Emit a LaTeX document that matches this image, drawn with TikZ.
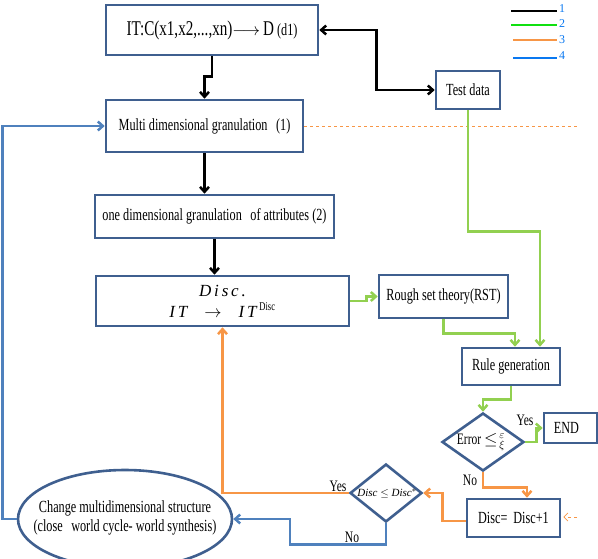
\documentclass[tikz,border=0pt]{standalone}
\usepackage{fontspec}
\setmainfont{Liberation Serif}
\newfontfamily\cond[FakeStretch=0.72]{Liberation Serif}
\usetikzlibrary{arrows.meta,shapes.geometric}
\definecolor{boxblue}{HTML}{3F5F8F}
\definecolor{loopblue}{HTML}{4F81BD}
\definecolor{lgreen}{HTML}{92D050}
\definecolor{lorange}{HTML}{F79646}
\definecolor{legblue}{HTML}{0A78F0}
\definecolor{leggreen}{HTML}{10E010}
\begin{document}
\begin{tikzpicture}[x=1pt,y=-1pt,
  box/.style={draw=boxblue, line width=2.6pt, inner sep=0pt, align=center,
    font=\cond\fontsize{17}{20}\selectfont},
  dia/.style={draw=boxblue, line width=2.6pt, diamond, inner sep=0pt},
  tip/.style={-{Straight Barb[length=5pt,width=9pt]}},
  blk/.style={black, line width=2.5pt, tip},
  grn/.style={lgreen, line width=2.5pt, tip},
  org/.style={lorange, line width=2.5pt, tip},
  blu/.style={loopblue, line width=2.5pt, tip},
  lbl/.style={font=\cond\fontsize{16}{19}\selectfont, inner sep=0pt}]
\useasboundingbox (0,0) rectangle (598,558);

% boxes
\node[box, minimum width=212, minimum height=50] (A) at (212,30)
  {{\fontsize{21}{24}\selectfont IT:C(x1,x2,...,xn)}$\longrightarrow$\,{\fontsize{21}{24}\selectfont D} (d1)};
\node[box, minimum width=197, minimum height=52] (B) at (204.5,126)
  {Multi dimensional granulation\enspace(1)};
\node[box, minimum width=239, minimum height=43] (C) at (214.5,216.5)
  {one dimensional granulation\enspace of attributes (2)};
\node[box, minimum width=253, minimum height=50, font=\fontsize{17}{21}\selectfont] (D) at (222.5,301)
  {\itshape D\,i\,s\,c\,.\\ \itshape I\,T\quad$\rightarrow$\quad I\,T\,\textsuperscript{\upshape\cond Disc}};
\node[box, minimum width=64, minimum height=38] (T) at (468,90) {Test data};
\node[box, minimum width=129, minimum height=43] (RST) at (443.5,296.5) {Rough set theory(RST)};
\node[box, minimum width=98, minimum height=37] (R) at (511,366.5) {Rule generation};
\node[box, minimum width=53, minimum height=30] (END) at (570.5,428) {END\hspace{8pt}};
\node[box, minimum width=93, minimum height=38] (Inc) at (513.5,518) {Disc=\, Disc+1};
\node[dia, minimum width=82, minimum height=58] (E) at (483,442) {};
\node[lbl] at ([xshift=-2pt]E.center) {Error $\le^{\,\varepsilon}_{\,\xi}$};
\node[dia, minimum width=72, minimum height=58] (D2) at (386,493) {};
\node[inner sep=0pt, font=\fontsize{11}{13}\selectfont] at ([xshift=1pt]D2.center) {\itshape Disc $\le$ Disc$^{*}$};
\node[draw=boxblue, line width=2.6pt, ellipse, inner sep=0pt, minimum width=214, minimum height=98] (El) at (125,519) {};
\node[lbl, align=center, font=\cond\fontsize{17}{19}\selectfont] at ([yshift=1pt]El.center)
  {Change multidimensional structure\\(close\enspace world cycle- world synthesis)};

% black connectors
\draw[blk] (A.south) -- ++(0,20) -| (B.north);
\draw[blk, {Straight Barb[length=5pt,width=9pt]}-{Straight Barb[length=5pt,width=9pt]}] (A.east) -- ++(57,0) |- (T.west);
\draw[blk] (B.south) -- (B.south |- C.north);
\draw[blk] (C.south) -- (C.south |- D.north);

% orange dashed
\coordinate (dashend) at (578,126);
\draw[lorange, line width=0.8pt, dashed] (B.east) -- (dashend);
\coordinate (incin) at (577,517);
\draw[lorange, line width=0.8pt, dashed, -{Straight Barb[length=4pt,width=8pt]}] (incin) -- ([xshift=2pt]Inc.east |- incin);

% green connectors
\draw[grn] (T.south) -- ++(0,121) -| ([xshift=29pt]R.north);
\draw[grn] (D.east) -- ++(16,0) |- (RST.west);
\draw[grn] (RST.south) -- ++(0,14) -| ([xshift=4pt]R.north);
\draw[grn] (R.south) -- ++(0,13) -| (E.north);
\draw[grn] (E.east) -- ++(11,0) |- (END.west);
\node[lbl] at (525,420) {Yes};

% orange connectors
\draw[org] (E.south) -- ++(0,15) -| ([xshift=13.5pt]Inc.north);
\node[lbl] at (470,480) {No};
\draw[org] ([yshift=-3pt]Inc.west) -- ++(-23,0) |- (D2.east);
\draw[org] (D2.west) -| (D.south);
\node[lbl] at (338,486) {Yes};

% blue connectors
\draw[blu] (D2.south) -- ++(0,21) -- ++(-96,0) |- (El.east);
\node[lbl] at (352,537) {No};
\draw[blu] (El.west) -- ++(-14,0) |- (B.west);

% legend
\draw[black, line width=2.5pt] (511,11) -- (557,11);
\draw[leggreen, line width=2.8pt] (511,25) -- (557,25);
\draw[lorange, line width=1.2pt] (513,40) -- (557,40);
\draw[legblue, line width=2.5pt] (513,58) -- (557,58);
\foreach \i/\yy in {1/9,2/24,3/40,4/56}
  \node[font=\fontsize{12}{14}\selectfont, text=legblue, inner sep=0pt, anchor=west] at (559,\yy) {\i};
\end{tikzpicture}
\end{document}
